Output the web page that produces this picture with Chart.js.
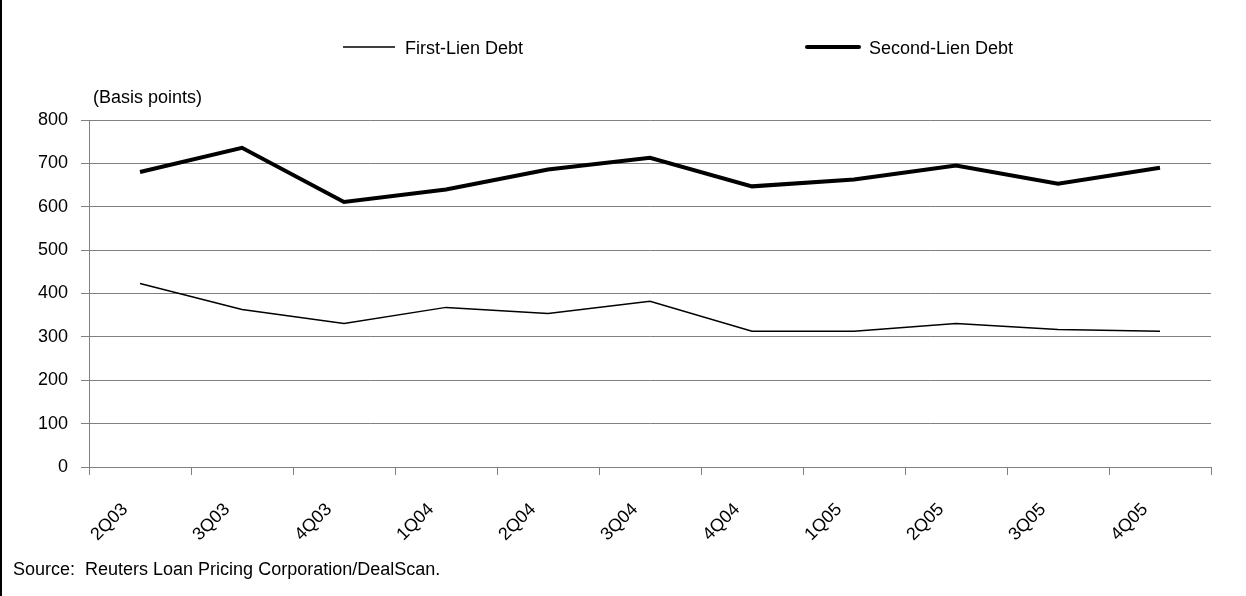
<!DOCTYPE html>
<html>
<head>
<meta charset="utf-8">
<script src="https://cdn.jsdelivr.net/npm/chart.js@4.4.0/dist/chart.umd.min.js"></script>
<style>
  html, body { margin: 0; padding: 0; background: #fff; }
  #wrap { width: 1246px; height: 596px; position: relative; }
</style>
</head>
<body>
<div id="wrap"><canvas id="spreadChart" width="1246" height="596"></canvas></div>
<script>
// quarters on the x axis
const quarters = ['2Q03', '3Q03', '4Q03', '1Q04', '2Q04', '3Q04', '4Q04', '1Q05', '2Q05', '3Q05', '4Q05'];

// spreads in basis points
const firstLien = [423, 363, 331, 368, 354, 382, 313, 313, 331, 317, 313];
const secondLien = [680, 736, 611, 640, 686, 713, 647, 663, 695, 653, 690];

const yTicks = [0, 100, 200, 300, 400, 500, 600, 700, 800];

const FONT = '"Liberation Sans", Arial, sans-serif';

// legend + captions drawn by hand, the Excel-style legend is spread too wide for the built-in one
const decorPlugin = {
    id: 'decor',
    beforeDraw(chart) {
        const ctx = chart.ctx;
        ctx.save();
        ctx.fillStyle = '#fff';
        ctx.fillRect(0, 0, chart.width, chart.height);
        // left frame line
        ctx.strokeStyle = '#000';
        ctx.lineWidth = 2;
        ctx.beginPath();
        ctx.moveTo(1, 0);
        ctx.lineTo(1, chart.height);
        ctx.stroke();
        ctx.restore();
    },
    afterDraw(chart, args, opts) {
        const ctx = chart.ctx;
        ctx.save();
        ctx.font = '18px ' + FONT;
        ctx.fillStyle = '#000';
        ctx.textBaseline = 'middle';

        chart.data.datasets.forEach((ds, i) => {
            const x = opts.legendX[i];
            const y = opts.legendY;
            ctx.strokeStyle = ds.borderColor;
            ctx.lineWidth = ds.borderWidth;
            ctx.lineCap = ds.borderWidth > 2 ? 'round' : 'butt';
            ctx.beginPath();
            ctx.moveTo(x, y);
            ctx.lineTo(x + opts.legendLine, y);
            ctx.stroke();
            ctx.fillText(ds.label, x + opts.legendLine + 10, y + 2);
        });

        ctx.fillText('(Basis points)', 93, 98);
        ctx.fillText('Source:  Reuters Loan Pricing Corporation/DealScan.', 13, 570);
        ctx.restore();
    }
};

const ctx = document.getElementById('spreadChart').getContext('2d');
const chart = new Chart(ctx, {
    type: 'line',
    data: {
        labels: quarters,
        datasets: [
            {
                label: 'First-Lien Debt',
                data: firstLien,
                borderColor: '#000',
                borderWidth: 1.5,
                pointRadius: 0,
                tension: 0,
                fill: false
            },
            {
                label: 'Second-Lien Debt',
                data: secondLien,
                borderColor: '#000',
                borderWidth: 4,
                pointRadius: 0,
                tension: 0,
                fill: false
            }
        ]
    },
    options: {
        responsive: false,
        animation: false,
        devicePixelRatio: 1,
        layout: {
            padding: { top: 120, right: 35, left: 0, bottom: 0 }
        },
        plugins: {
            legend: { display: false },
            tooltip: { enabled: false },
            decor: {
                legendX: [343, 807],
                legendY: 47,
                legendLine: 52
            }
        },
        scales: {
            x: {
                offset: true,
                afterFit: (scale) => { scale.height = 129; },
                grid: {
                    offset: true,
                    drawOnChartArea: false,
                    drawTicks: true,
                    tickLength: 8,
                    color: '#808080'
                },
                border: { color: '#808080', width: 1 },
                ticks: {
                    autoSkip: false,
                    minRotation: 45,
                    maxRotation: 45,
                    labelOffset: -15,
                    padding: 24,
                    color: '#000',
                    font: { family: FONT, size: 18 }
                }
            },
            y: {
                min: 0,
                max: 800,
                afterFit: (scale) => { scale.width = 89; },
                afterBuildTicks: (scale) => { scale.ticks = yTicks.map(v => ({ value: v })); },
                grid: {
                    color: '#808080',
                    drawTicks: true,
                    tickLength: 8
                },
                border: { color: '#808080', width: 1 },
                ticks: {
                    padding: 13,
                    color: '#000',
                    font: { family: FONT, size: 18 }
                }
            }
        }
    },
    plugins: [decorPlugin]
});
</script>
</body>
</html>
